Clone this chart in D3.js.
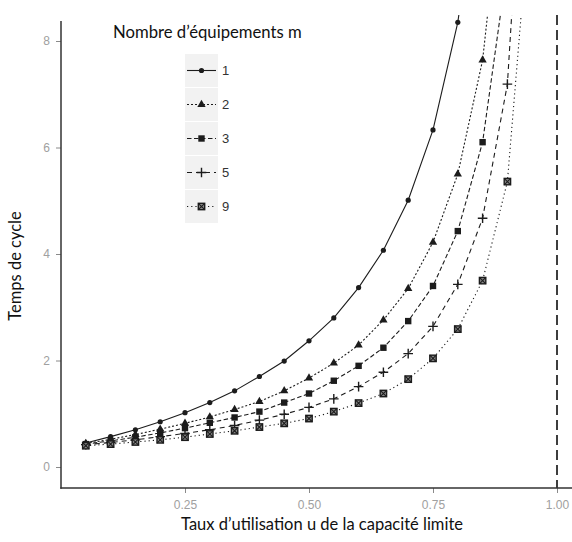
<!DOCTYPE html>
<html><head><meta charset="utf-8">
<script src="https://cdn.jsdelivr.net/npm/d3@7"></script>
<style>body{margin:0;background:#fff}</style>
</head><body><svg id="c" width="572" height="542"></svg>
<script>
// ---- data ----
const utilisation = [0.05,0.10,0.15,0.20,0.25,0.30,0.35,0.40,0.45,0.50,0.55,0.60,0.65,0.70,0.75,0.80,0.85,0.90,0.95];
const seriesLabels = ["1","2","3","5","9"];
const ctM1 = [0.45,0.57,0.70,0.85,1.02,1.21,1.43,1.70,1.99,2.37,2.80,3.37,4.07,5.01,6.33,8.35,11.7,18.3,38.3];
const ctM2 = [0.44,0.52,0.61,0.71,0.82,0.94,1.08,1.23,1.43,1.67,1.95,2.29,2.76,3.35,4.22,5.50,7.64,11.9,24.7];
const ctM3 = [0.43,0.49,0.56,0.64,0.73,0.83,0.93,1.04,1.21,1.38,1.62,1.90,2.24,2.74,3.40,4.43,6.10,9.43,19.4];
const ctM5 = [0.42,0.46,0.51,0.57,0.63,0.70,0.78,0.88,0.99,1.12,1.28,1.51,1.78,2.13,2.64,3.43,4.67,7.19,14.7];
const ctM9 = [0.40,0.43,0.47,0.51,0.56,0.62,0.68,0.75,0.82,0.91,1.04,1.20,1.38,1.65,2.04,2.59,3.50,5.36,11.0];
const yTicks = [0, 2, 4, 6, 8];
const xTicks = [0.25, 0.50, 0.75, 1.00];
const xTickLabels = ["0.25", "0.50", "0.75", "1.00"];
const limitU = [1.0];
const legendTitle = "Nombre d\u2019\u00e9quipements m";
const xTitle = "Taux d\u2019utilisation u de la capacit\u00e9 limite";
const yTitle = "Temps de cycle";

// ---- styles ----
const dashes = ["none", "2,2", "4.5,2.5", "5,4", "1.2,3"];
const shapes = ["circle", "triangle", "square", "plus", "boxx"];
const ink = "#1c1c1c";

const seriesValues = [ctM1, ctM2, ctM3, ctM5, ctM9];
const series = seriesLabels.map((lab, i) => ({
  label: lab, dash: dashes[i], shape: shapes[i],
  points: utilisation.map((u, j) => ({u: u, ct: seriesValues[i][j]}))
}));

const svg = d3.select("#c");
const x = d3.scaleLinear().domain([0, 1]).range([61, 557]);
const y = d3.scaleLinear().domain([0, 8]).range([467, 41]);
const panelTop = 15, panelBottom = 488, panelLeft = 61, panelRight = 572;

svg.append("defs").append("clipPath").attr("id", "clip")
  .append("rect").attr("x", panelLeft).attr("y", panelTop)
  .attr("width", panelRight - panelLeft).attr("height", panelBottom - panelTop);

function drawShape(g, shape, cx, cy) {
  if (shape === "circle") {
    g.append("circle").attr("cx", cx).attr("cy", cy).attr("r", 2.6).attr("fill", ink);
  } else if (shape === "triangle") {
    g.append("path").attr("d", d3.symbol(d3.symbolTriangle, 30)())
      .attr("transform", `translate(${cx},${cy})`).attr("fill", ink);
  } else if (shape === "square") {
    g.append("rect").attr("x", cx - 3.2).attr("y", cy - 3.2).attr("width", 6.4).attr("height", 6.4).attr("fill", ink);
  } else if (shape === "plus") {
    g.append("path").attr("d", `M${cx-4.8},${cy}H${cx+4.8}M${cx},${cy-4.8}V${cy+4.8}`)
      .attr("stroke", ink).attr("stroke-width", 1.4).attr("fill", "none");
  } else if (shape === "boxx") {
    const s = 3.2;
    g.append("rect").attr("x", cx - s).attr("y", cy - s).attr("width", 2*s).attr("height", 2*s)
      .attr("fill", "#888").attr("stroke", ink).attr("stroke-width", 1.4);
    g.append("path").attr("d", `M${cx-s},${cy-s}L${cx+s},${cy+s}M${cx-s},${cy+s}L${cx+s},${cy-s}`)
      .attr("stroke", ink).attr("stroke-width", 1.1);
  }
}

// ---- plot ----
const plot = svg.append("g").attr("clip-path", "url(#clip)");
const line = d3.line().x(d => x(d.u)).y(d => y(d.ct));

plot.selectAll("line.limit").data(limitU).join("line").attr("class", "limit")
  .attr("x1", d => x(d)).attr("x2", d => x(d)).attr("y1", panelTop).attr("y2", panelBottom)
  .attr("stroke", "#2a2a2a").attr("stroke-width", 1.8).attr("stroke-dasharray", "10,5");

series.forEach(s => {
  plot.append("path").datum(s.points).attr("d", line)
    .attr("fill", "none").attr("stroke", ink).attr("stroke-width", 1.1)
    .attr("stroke-dasharray", s.dash);
  const mg = plot.append("g");
  s.points.forEach(p => drawShape(mg, s.shape, x(p.u), y(p.ct)));
});

// ---- axes ----
const tickColor = "#a0a0a0";
const yAxis = svg.append("g").attr("transform", `translate(${panelLeft},0)`)
  .call(d3.axisLeft(y).tickValues(yTicks).tickFormat(d3.format("d")).tickSize(5).tickPadding(6));
const xAxis = svg.append("g").attr("transform", `translate(0,${panelBottom})`)
  .call(d3.axisBottom(x).tickValues(xTicks).tickFormat((d, i) => xTickLabels[i]).tickSize(5).tickPadding(7));
[yAxis, xAxis].forEach(a => {
  a.select(".domain").remove();
  a.selectAll(".tick line").attr("stroke", "#8a8a8a").attr("stroke-width", 1);
  a.selectAll(".tick text").attr("fill", tickColor)
    .attr("font-family", "Liberation Sans, Arial, sans-serif").attr("font-size", 12);
});
svg.append("line").attr("x1", panelLeft).attr("x2", panelLeft).attr("y1", 21).attr("y2", panelBottom + 0.7)
  .attr("stroke", "#333").attr("stroke-width", 1.5);
svg.append("line").attr("x1", panelLeft - 0.7).attr("x2", panelRight).attr("y1", panelBottom).attr("y2", panelBottom)
  .attr("stroke", "#333").attr("stroke-width", 1.5);

function fit(sel, target) {
  const w = sel.node().getComputedTextLength();
  const fs = parseFloat(sel.attr("font-size"));
  sel.attr("font-size", (fs * target / w).toFixed(2));
}
const titleFont = "Lato, 'Open Sans', sans-serif";
const xt = svg.append("text").text(xTitle).attr("x", 322).attr("y", 530)
  .attr("text-anchor", "middle").attr("font-family", titleFont).attr("font-size", 15).attr("fill", "#111");
fit(xt, 282);
const yt = svg.append("text").text(yTitle).attr("transform", "translate(21,266) rotate(-90)")
  .attr("text-anchor", "middle").attr("font-family", titleFont).attr("font-size", xt.attr("font-size")).attr("fill", "#111");

// ---- legend ----
const lg = svg.append("g");
const lt = lg.append("text").text(legendTitle).attr("x", 113).attr("y", 38)
  .attr("font-family", titleFont).attr("font-size", 15).attr("fill", "#111");
fit(lt, 189);
const keyTop = 54, keyPitch = 34, keyH = 33, keyX = 185, keyW = 33;
series.forEach((s, i) => {
  const cy = keyTop + i * keyPitch + keyH / 2;
  lg.append("rect").attr("x", keyX).attr("y", keyTop + i * keyPitch).attr("width", keyW).attr("height", keyH)
    .attr("fill", "#f2f2f2");
  lg.append("line").attr("x1", keyX + 2).attr("x2", keyX + keyW - 2).attr("y1", cy).attr("y2", cy)
    .attr("stroke", ink).attr("stroke-width", 1.1).attr("stroke-dasharray", s.dash);
  drawShape(lg, s.shape, keyX + keyW / 2, cy);
  lg.append("text").text(s.label).attr("x", keyX + keyW + 4).attr("y", cy).attr("dy", "0.36em")
    .attr("font-family", "Liberation Sans, Arial, sans-serif").attr("font-size", 13).attr("fill", "#333");
});
</script>
</body></html>
